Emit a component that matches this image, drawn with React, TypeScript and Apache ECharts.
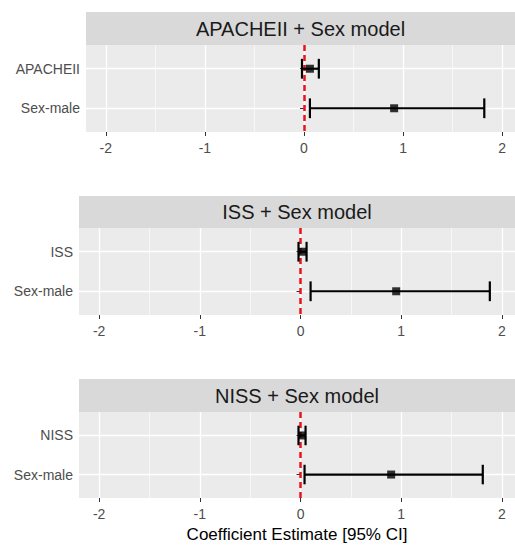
import React, { useEffect, useRef } from 'react';
import * as echarts from 'echarts';

const panelTitles = ['APACHEII + Sex model', 'ISS + Sex model', 'NISS + Sex model'];
const terms1 = ['APACHEII', 'Sex-male'];
const terms2 = ['ISS', 'Sex-male'];
const terms3 = ['NISS', 'Sex-male'];
const estimate1 = [0.06, 0.91];
const lower1 = [-0.02, 0.06];
const upper1 = [0.15, 1.82];
const estimate2 = [0.02, 0.95];
const lower2 = [-0.02, 0.1];
const upper2 = [0.06, 1.88];
const estimate3 = [0.015, 0.9];
const lower3 = [-0.02, 0.04];
const upper3 = [0.05, 1.81];
const xTicks = [-2, -1, 0, 1, 2];
const xMinorBreaks = [-1.5, -0.5, 0.5, 1.5];
const referenceLine = 0;
const xTitle = 'Coefficient Estimate [95% CI]';

const FONT = "'Liberation Sans', Arial, sans-serif";
const W = 515;

const layouts = [
  { left: 86, top: 45, height: 87, stripTop: 12, stripH: 33 },
  { left: 79, top: 228, height: 87, stripTop: 196, stripH: 32 },
  { left: 79, top: 412, height: 86, stripTop: 379, stripH: 33 },
];

const panels = [
  { terms: terms1, est: estimate1, lo: lower1, hi: upper1 },
  { terms: terms2, est: estimate2, lo: lower2, hi: upper2 },
  { terms: terms3, est: estimate3, lo: lower3, hi: upper3 },
];

export default function App() {
  const ref = useRef<HTMLDivElement>(null);
  useEffect(() => {
    if (!ref.current) return;
    const chart = echarts.init(ref.current, null, { renderer: 'svg' });
    const grid: any[] = [];
    const xAxis: any[] = [];
    const yAxis: any[] = [];
    const series: any[] = [];
    const graphic: any[] = [];

    panels.forEach((p, i) => {
      const L = layouts[i];
      grid.push({
        left: L.left,
        right: 0,
        top: L.top,
        height: L.height,
        show: true,
        backgroundColor: '#ebebeb',
        borderWidth: 0,
      });
      xAxis.push({
        type: 'value',
        gridIndex: i,
        min: -2.2,
        max: 2.13,
        axisLine: { show: false },
        axisTick: { show: true, customValues: xTicks, length: 4, lineStyle: { color: '#333333', width: 1 } },
        axisLabel: {
          customValues: xTicks,
          margin: 9,
          color: '#4d4d4d',
          fontSize: 14,
          fontFamily: FONT,
          formatter: (v: number) => String(v),
        },
        splitLine: { show: true, lineStyle: { color: '#ffffff', width: 1.3 } },
        name: i === 2 ? xTitle : '',
        nameLocation: 'middle',
        nameGap: 28,
        nameTextStyle: { color: '#000000', fontSize: 17, fontFamily: FONT },
      });
      yAxis.push({
        type: 'value',
        gridIndex: i,
        min: 0.4,
        max: 2.6,
        inverse: true,
        axisLine: { show: false },
        axisTick: { show: true, customValues: [1, 2], length: 4, lineStyle: { color: '#333333', width: 1 } },
        axisLabel: {
          customValues: [1, 2],
          margin: 6,
          color: '#4d4d4d',
          fontSize: 14,
          fontFamily: FONT,
          formatter: (v: number) => p.terms[Math.round(v) - 1] ?? '',
        },
        splitLine: { show: true, lineStyle: { color: '#ffffff', width: 1.3 } },
      });

      // minor gridlines
      series.push({
        type: 'scatter',
        xAxisIndex: i,
        yAxisIndex: i,
        data: [],
        silent: true,
        z: 1,
        markLine: {
          silent: true,
          symbol: 'none',
          z: 1,
          label: { show: false },
          lineStyle: { color: '#ffffff', width: 0.6, type: 'solid' },
          data: xMinorBreaks.map((b) => ({ xAxis: b })),
        },
      });
      // reference line
      series.push({
        type: 'scatter',
        xAxisIndex: i,
        yAxisIndex: i,
        data: [],
        silent: true,
        z: 2,
        markLine: {
          silent: true,
          symbol: 'none',
          z: 2,
          label: { show: false },
          lineStyle: { color: '#e8141c', width: 2.5, type: [6, 4] },
          data: [{ xAxis: referenceLine }],
        },
      });
      // error bars
      series.push({
        type: 'custom',
        xAxisIndex: i,
        yAxisIndex: i,
        z: 3,
        encode: { x: [1, 2], y: 0 },
        data: p.terms.map((_, k) => [k + 1, p.lo[k], p.hi[k]]),
        renderItem: (params: any, api: any) => {
          const y = api.value(0);
          const lo = api.value(1);
          const hi = api.value(2);
          const pL = api.coord([lo, y]);
          const pH = api.coord([hi, y]);
          const cT = api.coord([lo, y - 0.25]);
          const cB = api.coord([lo, y + 0.25]);
          const h = Math.abs(cB[1] - cT[1]) / 2;
          const st = { stroke: '#000000', lineWidth: 2.2 };
          return {
            type: 'group',
            children: [
              { type: 'line', shape: { x1: pL[0], y1: pL[1], x2: pH[0], y2: pH[1] }, style: st },
              { type: 'line', shape: { x1: pL[0], y1: pL[1] - h, x2: pL[0], y2: pL[1] + h }, style: st },
              { type: 'line', shape: { x1: pH[0], y1: pH[1] - h, x2: pH[0], y2: pH[1] + h }, style: st },
            ],
          };
        },
      });
      // point estimates
      series.push({
        type: 'scatter',
        xAxisIndex: i,
        yAxisIndex: i,
        z: 4,
        symbol: 'rect',
        symbolSize: 8,
        itemStyle: { color: '#000000' },
        data: p.terms.map((_, k) => [p.est[k], k + 1]),
      });

      graphic.push({
        type: 'rect',
        shape: { x: L.left, y: L.stripTop, width: W - L.left, height: L.stripH },
        style: { fill: '#d9d9d9' },
        silent: true,
      });
      graphic.push({
        type: 'text',
        x: (L.left + W) / 2,
        y: L.stripTop + L.stripH / 2,
        style: {
          text: panelTitles[i],
          fill: '#1a1a1a',
          fontSize: 20,
          fontFamily: FONT,
          textAlign: 'center',
          textVerticalAlign: 'middle',
        },
        silent: true,
      });
    });

    chart.setOption({
      animation: false,
      backgroundColor: '#ffffff',
      textStyle: { fontFamily: FONT },
      grid,
      xAxis,
      yAxis,
      series,
      graphic,
    });
    return () => chart.dispose();
  }, []);
  return (
    <div
      ref={ref}
      style={{ position: 'fixed', left: 0, top: 0, width: 515, height: 545, background: '#fff' }}
    />
  );
}
